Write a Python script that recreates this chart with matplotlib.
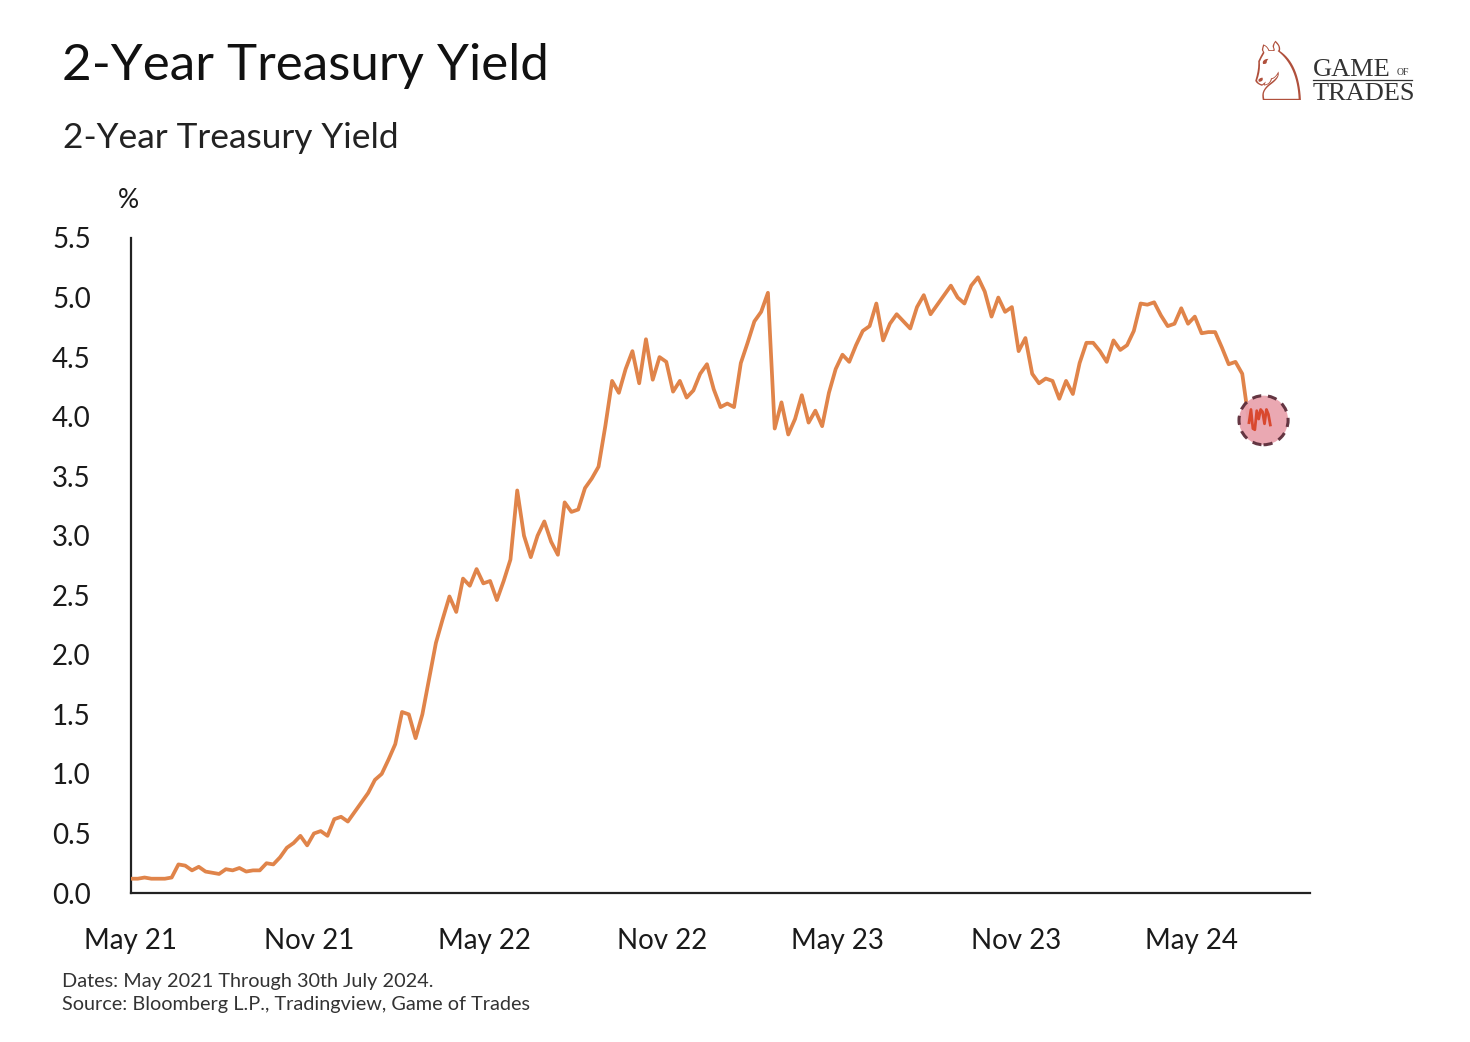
import matplotlib
matplotlib.use("Agg")
import matplotlib.pyplot as plt
import pandas as pd

plt.rcParams['font.family'] = ['Lato', 'DejaVu Sans']

# weekly 2-year yield (%), from start of May 2021
yields = [
    0.12, 0.12, 0.13, 0.12, 0.12, 0.12, 0.13, 0.24, 0.23, 0.19,
    0.22, 0.18, 0.17, 0.16, 0.20, 0.19, 0.21, 0.18, 0.19, 0.19,
    0.25, 0.24, 0.30, 0.38, 0.42, 0.48, 0.40, 0.50, 0.52, 0.48,
    0.62, 0.64, 0.60, 0.68, 0.76, 0.84, 0.95, 1.00, 1.12, 1.25,
    1.52, 1.50, 1.30, 1.50, 1.80, 2.10, 2.30, 2.49, 2.36, 2.64,
    2.58, 2.72, 2.60, 2.62, 2.46, 2.62, 2.80, 3.38, 3.00, 2.82,
    3.00, 3.12, 2.95, 2.84, 3.28, 3.20, 3.22, 3.40, 3.48, 3.58,
    3.92, 4.30, 4.20, 4.40, 4.55, 4.28, 4.65, 4.31, 4.50, 4.46,
    4.21, 4.30, 4.16, 4.22, 4.36, 4.44, 4.23, 4.08, 4.11, 4.08,
    4.45, 4.62, 4.80, 4.88, 5.04, 3.90, 4.12, 3.85, 3.98, 4.18,
    3.95, 4.05, 3.92, 4.20, 4.40, 4.52, 4.46, 4.60, 4.72, 4.76,
    4.95, 4.64, 4.78, 4.86, 4.80, 4.74, 4.92, 5.02, 4.86, 4.94,
    5.02, 5.10, 5.00, 4.95, 5.10, 5.17, 5.05, 4.84, 5.00, 4.88,
    4.92, 4.55, 4.66, 4.36, 4.28, 4.32, 4.30, 4.15, 4.30, 4.19,
    4.45, 4.62, 4.62, 4.55, 4.46, 4.64, 4.56, 4.60, 4.72, 4.95,
    4.94, 4.96, 4.85, 4.76, 4.78, 4.91, 4.78, 4.84, 4.70, 4.71,
    4.71, 4.58, 4.44, 4.46, 4.36, 3.95,
]
dates = pd.date_range("2021-05-01", periods=len(yields), freq="7D")

# last few weeks, drawn in red inside the highlight circle
tail_yields = [3.95, 4.06, 3.90, 3.89, 4.05, 3.98, 4.06, 4.04, 3.94, 4.06, 4.02, 3.93]
tail_dates = pd.date_range(dates[-1], periods=len(tail_yields), freq="2D")

circle_date = pd.Timestamp("2024-07-14")
circle_value = 3.97

tick_dates = pd.to_datetime(["2021-05-01", "2021-11-01", "2022-05-01", "2022-11-01",
                             "2023-05-01", "2023-11-01", "2024-05-01"])
tick_labels = ["May 21", "Nov 21", "May 22", "Nov 22", "May 23", "Nov 23", "May 24"]
y_ticks = [0.0, 0.5, 1.0, 1.5, 2.0, 2.5, 3.0, 3.5, 4.0, 4.5, 5.0, 5.5]

fig = plt.figure(figsize=(14.7, 10.42), dpi=100)
ax = fig.add_axes([131/1470, 1 - 893/1042, (1310 - 131)/1470, (893 - 238)/1042])

ax.plot(dates, yields, color='#E0844A', lw=2.7, solid_joinstyle='round', zorder=3)
ax.scatter([circle_date], [circle_value], s=1250, facecolor='#E9A3AE', edgecolor='#5C2D3A',
           linewidths=2.2, linestyles=(0, (3, 2.2)), alpha=0.95, zorder=4)
ax.plot(tail_dates, tail_yields, color='#D9482F', lw=2.0, zorder=5)

ax.set_xlim(pd.Timestamp("2021-05-01"), pd.Timestamp("2024-08-31"))
ax.set_ylim(0, 5.47)
ax.set_xticks(tick_dates)
ax.set_xticklabels(tick_labels)
ax.set_yticks(y_ticks)
ax.set_yticklabels([f"{v:.1f}" for v in y_ticks])
ax.tick_params(axis='both', length=0, labelsize=20, colors='#1a1a1a')
ax.tick_params(axis='y', pad=29)
ax.tick_params(axis='x', pad=25)
for lab in ax.get_yticklabels():
    lab.set_horizontalalignment('right')

for side in ['top', 'right']:
    ax.spines[side].set_visible(False)
for side in ['left', 'bottom']:
    ax.spines[side].set_color('#222222')
    ax.spines[side].set_linewidth(1.6)

fig.text(128/1470, 1 - 200/1042, "%", fontsize=19, ha='center', va='center', color='#1a1a1a')

fig.text(62/1470, 1 - 80/1042, "2-Year Treasury Yield", fontsize=36.8,
         color='#111111', ha='left', va='baseline')
fig.text(63/1470, 1 - 148/1042, "2-Year Treasury Yield", fontsize=25.4,
         color='#222222', ha='left', va='baseline')

fig.text(62/1470, 1 - 987/1042, "Dates: May 2021 Through 30th July 2024.", fontsize=14.3,
         color='#333333', ha='left', va='baseline')
fig.text(62/1470, 1 - 1010/1042, "Source: Bloomberg L.P., Tradingview, Game of Trades",
         fontsize=14.3, color='#333333', ha='left', va='baseline')

# logo
fig.text(1278/1470, 1 - 78/1042, "\u2658", family=['DejaVu Sans'], fontsize=58,
         color='#B0503C', ha='center', va='center')
fig.text(1313/1470, 1 - 76/1042, "GAME", family=['Liberation Serif'], fontsize=19,
         color='#333333', ha='left', va='baseline')
fig.text(1397/1470, 1 - 75/1042, "OF", family=['Liberation Serif'], fontsize=7,
         color='#333333', ha='left', va='baseline')
fig.add_artist(plt.Line2D([1313/1470, 1412/1470], [1 - 80/1042, 1 - 80/1042],
                          color='#333333', lw=0.9))
fig.text(1313/1470, 1 - 100/1042, "TRADES", family=['Liberation Serif'], fontsize=19,
         color='#333333', ha='left', va='baseline')

fig.savefig("out.png", dpi=100, facecolor='white')
